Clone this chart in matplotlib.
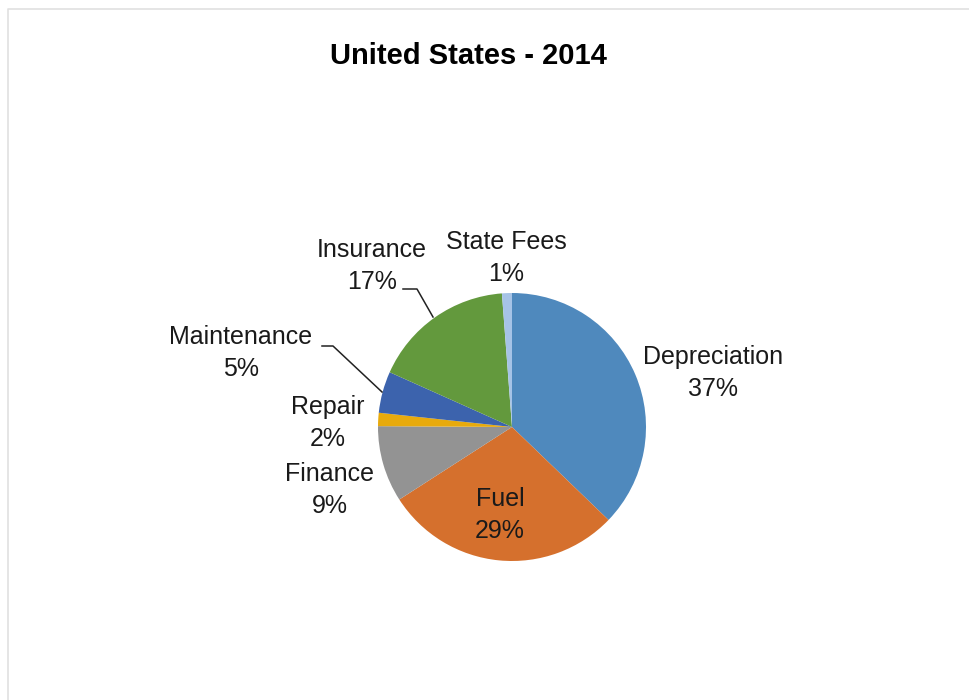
import matplotlib
import matplotlib.pyplot as plt

matplotlib.use("Agg", force=True)

plt.rcParams["font.family"] = ["Liberation Sans", "DejaVu Sans"]

categories = ["Depreciation", "Fuel", "Finance", "Repair", "Maintenance", "Insurance", "State Fees"]
shares = [37.2, 28.7, 9.2, 1.6, 5.0, 17.1, 1.2]
colors = ["#4F89BD", "#D5702D", "#939393", "#E8AA0C", "#3C63AD", "#63993D", "#A6C3E6"]

# label placement (figure pixels, y from top) and optional leader-line elbow
label_pos = {
    "Depreciation": (713, 373),
    "Fuel": (500, 515),
    "Finance": (330, 490),
    "Repair": (328, 423),
    "Maintenance": (241, 353),
    "Insurance": (372, 266),
    "State Fees": (506, 258),
}
leaders = {
    "Maintenance": [(322, 346), (333, 346), (382, 392)],
    "Insurance": [(403, 289), (417, 289), (433, 317)],
}

W, H = 969, 700
fig = plt.figure(figsize=(W / 100, H / 100), dpi=100)
ax = fig.add_axes([0, 0, 1, 1])
ax.set_xlim(0, W)
ax.set_ylim(0, H)
ax.set_aspect("equal")
ax.axis("off")

# chart frame
ax.plot([8.5, 8.5, W], [0, H - 8.5, H - 8.5], color="#E0E0E0", lw=1.2)

ax.pie(shares, colors=colors, startangle=90, counterclock=False,
       center=(512, H - 427), radius=134, frame=True,
       wedgeprops=dict(linewidth=0))
ax.set_xlim(0, W)
ax.set_ylim(0, H)
ax.axis("off")

for name, val in zip(categories, shares):
    x, y = label_pos[name]
    ax.text(x, H - y, f"{name}\n{val:.0f}%", ha="center", va="center",
            fontsize=18, linespacing=1.38, color="#1a1a1a")

for name, pts in leaders.items():
    ax.plot([p[0] for p in pts], [H - p[1] for p in pts], color="#222222", lw=1.1)

ax.text(468, H - 56, "United States - 2014", ha="center", va="center",
        fontsize=21, fontweight="bold")

fig.savefig("out.png", dpi=100)
